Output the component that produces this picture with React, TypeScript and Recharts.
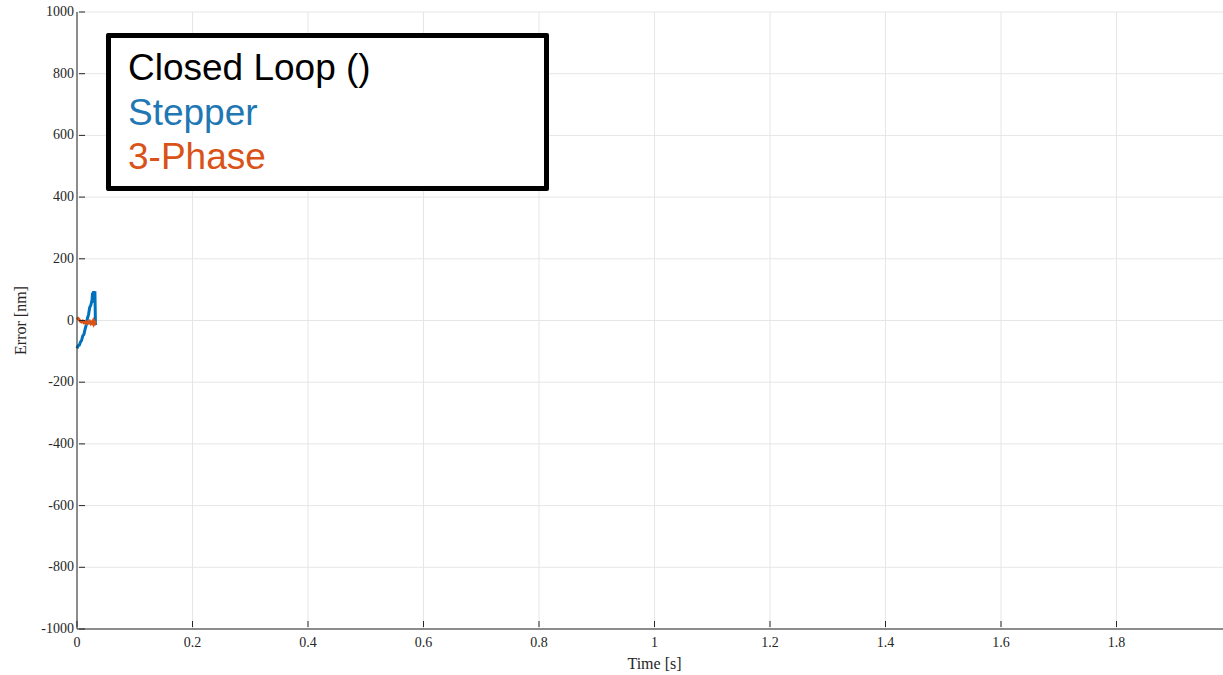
import React from "react";
import {
  LineChart,
  Line,
  XAxis,
  YAxis,
  CartesianGrid,
} from "recharts";

// time samples [s]
const times = [
  0, 0.002, 0.004, 0.006, 0.008, 0.01, 0.012, 0.014, 0.016, 0.018, 0.02,
  0.022, 0.024, 0.026, 0.027, 0.028, 0.029, 0.03, 0.031, 0.032,
];
// position error [nm]
const stepper = [
  -90, -82, -80, -70, -64, -50, -45, -28, -14, 6, 20, 42, 50, 66, 90, 58, 95,
  80, 95, -15,
];
const threePhase = [
  10, 6, 2, -3, -5, -2, -7, -4, -9, -5, -8, -3, -10, -5, -8, -3, -9, -4, -7,
  -2,
];

const xTicks = [0, 0.2, 0.4, 0.6, 0.8, 1, 1.2, 1.4, 1.6, 1.8];
const yTicks = [-1000, -800, -600, -400, -200, 0, 200, 400, 600, 800, 1000];

const data = times.map((t, i) => ({
  t,
  stepper: stepper[i],
  threePhase: threePhase[i],
}));

const AXIS = "#262626";
const FONT = "'Liberation Serif', 'DejaVu Serif', serif";

const BottomTick = (props: any) => {
  const { x, y, payload } = props;
  const axisY = y - 8 - 2;
  return (
    <g>
      <line x1={x} x2={x} y1={axisY} y2={axisY - 6} stroke={AXIS} />
      <text
        x={x}
        y={axisY + 20}
        textAnchor="middle"
        fontSize={14}
        fontFamily={FONT}
        fill={AXIS}
      >
        {payload.value}
      </text>
    </g>
  );
};

const TopTick = (props: any) => {
  const { x, y } = props;
  const axisY = y + 8 + 2;
  return <line x1={x} x2={x} y1={axisY} y2={axisY + 6} stroke={AXIS} />;
};

const LeftTick = (props: any) => {
  const { x, y, payload } = props;
  const axisX = x + 8 + 2;
  return (
    <g>
      <line x1={axisX} x2={axisX + 6} y1={y} y2={y} stroke={AXIS} />
      <text
        x={axisX - 5}
        y={y + 4}
        textAnchor="end"
        fontSize={14}
        fontFamily={FONT}
        fill={AXIS}
      >
        {payload.value}
      </text>
    </g>
  );
};

const App: React.FC = () => {
  return (
    <div
      style={{
        position: "absolute",
        left: 0,
        top: 0,
        width: 1223,
        height: 675,
        overflow: "hidden",
        background: "#fff",
      }}
    >
      <LineChart
        width={1240}
        height={675}
        data={data}
        margin={{ top: 12, right: 8, left: 0, bottom: 0 }}
      >
        <CartesianGrid stroke="#e6e6e6" strokeWidth={1} xAxisId="bottom" yAxisId="left" />
        <XAxis
          xAxisId="bottom"
          dataKey="t"
          type="number"
          domain={[0, 2]}
          ticks={xTicks}
          interval={0}
          height={46}
          stroke={AXIS}
          tickLine={false}
          tick={<BottomTick />}
          label={{
            value: "Time [s]",
            position: "insideBottom",
            offset: 6,
            fontFamily: FONT,
            fontSize: 16,
            fill: AXIS,
          }}
        />
        <XAxis
          xAxisId="top"
          orientation="top"
          dataKey="t"
          type="number"
          domain={[0, 2]}
          ticks={xTicks}
          interval={0}
          height={0}
          stroke={AXIS}
          tickLine={false}
          tick={<TopTick />}
        />
        <YAxis
          yAxisId="left"
          type="number"
          domain={[-1000, 1000]}
          ticks={yTicks}
          interval={0}
          width={77}
          stroke={AXIS}
          tickLine={false}
          tick={<LeftTick />}
          label={{
            value: "Error [nm]",
            angle: -90,
            position: "insideLeft",
            offset: 20,
            style: { textAnchor: "middle" },
            fontFamily: FONT,
            fontSize: 16,
            fill: AXIS,
          }}
        />
        <YAxis
          yAxisId="right"
          orientation="right"
          type="number"
          domain={[-1000, 1000]}
          width={0}
          stroke={AXIS}
          tick={false}
          tickLine={false}
        />
        <Line
          xAxisId="bottom"
          yAxisId="left"
          type="linear"
          dataKey="stepper"
          stroke="#0072BD"
          strokeWidth={3}
          dot={false}
          isAnimationActive={false}
        />
        <Line
          xAxisId="bottom"
          yAxisId="left"
          type="linear"
          dataKey="threePhase"
          stroke="#D95319"
          strokeWidth={3}
          dot={false}
          isAnimationActive={false}
        />
      </LineChart>
      <div
        style={{
          position: "absolute",
          left: 106,
          top: 33,
          width: 443,
          height: 158,
          border: "5px solid #000",
          borderRadius: 2,
          background: "#fff",
          fontFamily: "'Liberation Sans', Arial, sans-serif",
          fontSize: 37,
          lineHeight: "44.5px",
          padding: "8px 0 0 17px",
          boxSizing: "border-box",
        }}
      >
        <div style={{ color: "#000" }}>Closed Loop ()</div>
        <div style={{ color: "#1f77b4" }}>Stepper</div>
        <div style={{ color: "#d95319" }}>3-Phase</div>
      </div>
    </div>
  );
};

export default App;
